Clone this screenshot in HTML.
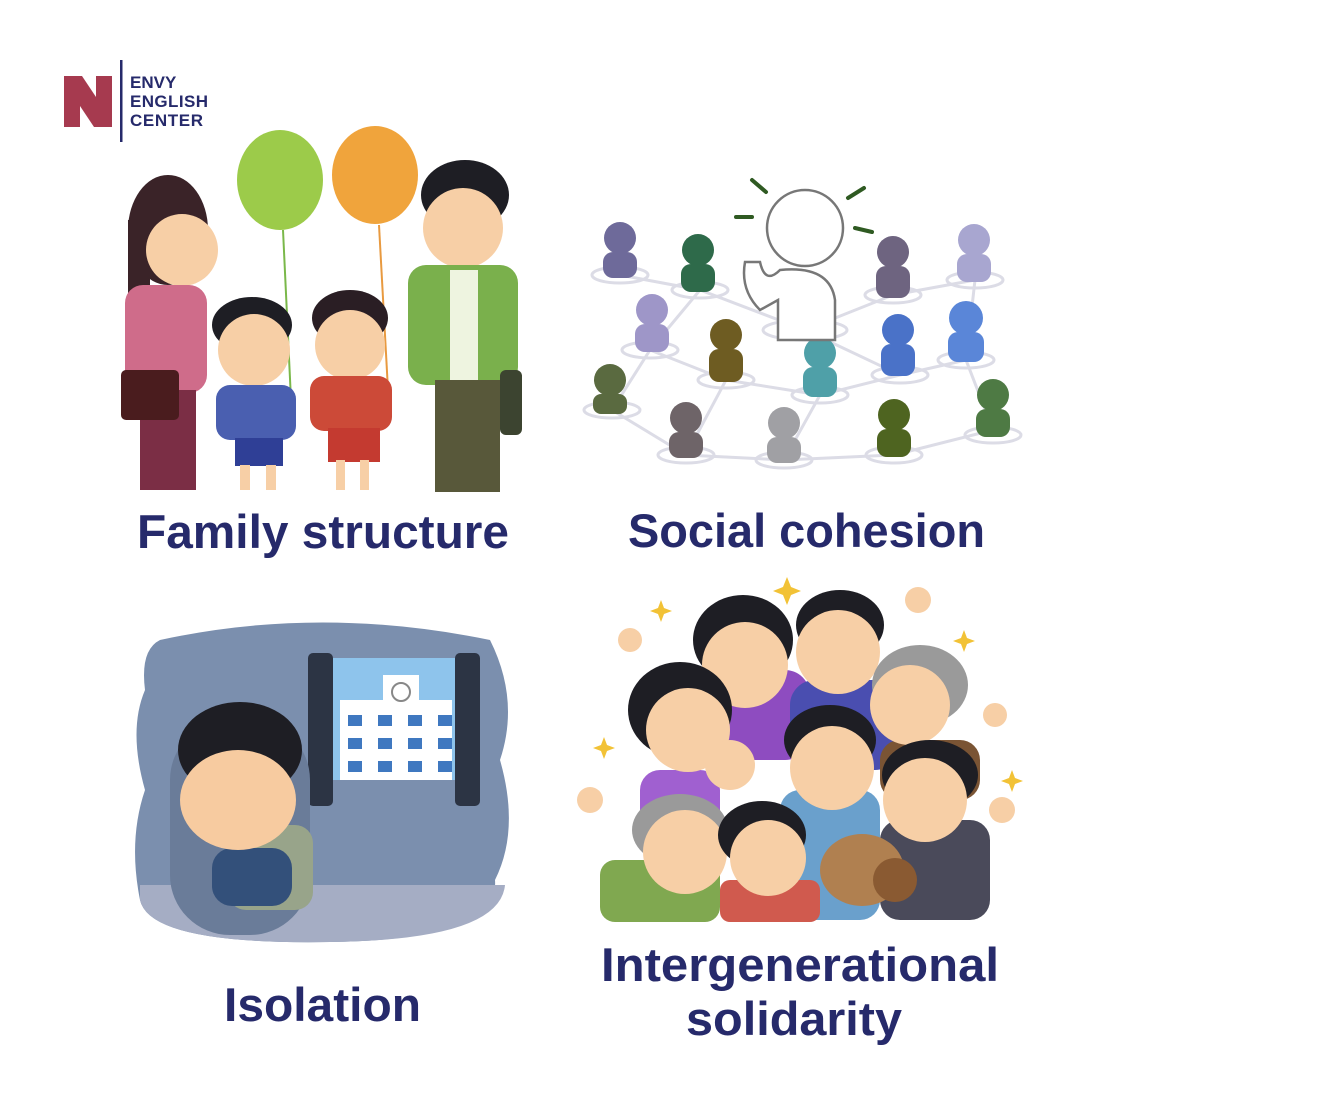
<!DOCTYPE html>
<html><head><meta charset="utf-8"><style>
html,body{margin:0;padding:0;background:#fff;width:1326px;height:1096px;overflow:hidden}
svg{display:block}
text.t{font-family:"Liberation Sans",sans-serif;font-weight:bold;fill:#262a6b;font-size:47px}
</style></head><body>
<svg width="1326" height="1096" viewBox="0 0 1326 1096" xmlns="http://www.w3.org/2000/svg">
<!-- logo -->
<rect x="64" y="76" width="16" height="51" fill="#a63a4f"/>
<rect x="96" y="76" width="16" height="51" fill="#a63a4f"/>
<polygon points="64,76 82,76 112,121 112,127 94,127 64,82" fill="#a63a4f"/>
<rect x="120" y="60" width="2.5" height="82" fill="#262a6b"/>
<text x="130" y="88" font-family="Liberation Sans,sans-serif" font-weight="bold" font-size="17" fill="#262a6b">ENVY</text>
<text x="130" y="107" font-family="Liberation Sans,sans-serif" font-weight="bold" font-size="17" fill="#262a6b" textLength="78">ENGLISH</text>
<text x="130" y="126" font-family="Liberation Sans,sans-serif" font-weight="bold" font-size="17" fill="#262a6b" textLength="73">CENTER</text>

<!-- FAMILY -->
<line x1="283" y1="230" x2="291" y2="400" stroke="#7ab84a" stroke-width="2"/>
<line x1="379" y1="225" x2="388" y2="390" stroke="#e89a40" stroke-width="2"/>
<ellipse cx="280" cy="180" rx="43" ry="50" fill="#9ccb4a"/>
<ellipse cx="375" cy="175" rx="43" ry="49" fill="#f0a43c"/>
<!-- mother -->
<ellipse cx="168" cy="230" rx="40" ry="55" fill="#3a2328"/>
<rect x="128" y="220" width="22" height="100" fill="#3a2328"/>
<circle cx="182" cy="250" r="36" fill="#f7cfa6"/>
<rect x="125" y="285" width="82" height="108" rx="18" fill="#cf6c8a"/>
<rect x="140" y="390" width="56" height="100" fill="#7b2e45"/>
<rect x="121" y="370" width="58" height="50" rx="5" fill="#4a1c1e"/>
<!-- boy -->
<ellipse cx="252" cy="325" rx="40" ry="28" fill="#1e1e24"/>
<circle cx="254" cy="350" r="36" fill="#f7cfa6"/>
<rect x="216" y="385" width="80" height="55" rx="14" fill="#4a5fb0"/>
<rect x="235" y="438" width="48" height="28" fill="#2f3f96"/>
<rect x="240" y="465" width="10" height="25" fill="#f7cfa6"/><rect x="266" y="465" width="10" height="25" fill="#f7cfa6"/>
<!-- girl -->
<ellipse cx="350" cy="318" rx="38" ry="28" fill="#2a1e24"/>
<circle cx="350" cy="345" r="35" fill="#f7cfa6"/>
<rect x="310" y="376" width="82" height="55" rx="14" fill="#cc4a38"/>
<rect x="328" y="428" width="52" height="34" fill="#c43a30"/>
<rect x="336" y="460" width="9" height="30" fill="#f7cfa6"/><rect x="360" y="460" width="9" height="30" fill="#f7cfa6"/>
<!-- father -->
<ellipse cx="465" cy="195" rx="44" ry="35" fill="#1e1e24"/>
<circle cx="463" cy="228" r="40" fill="#f7cfa6"/>
<rect x="408" y="265" width="110" height="120" rx="18" fill="#7ab04c"/>
<rect x="450" y="270" width="28" height="110" fill="#eef4e0"/>
<rect x="435" y="380" width="65" height="112" fill="#58583a"/>
<rect x="500" y="370" width="22" height="65" rx="6" fill="#3c4430"/>

<!-- SOCIAL -->
<g stroke="#dcdce6" stroke-width="3" fill="none">
<path d="M620 275 L700 290 L805 330 L893 295 L975 280 M700 290 L650 350 L612 410 L686 455 L784 460 L820 395 L900 375 L966 360 L993 430 L894 455 M650 350 L726 380 L686 455 M726 380 L820 395 M805 330 L900 375 M966 360 L975 280 M784 460 L894 455"/>
<ellipse cx="620" cy="275" rx="28" ry="8"/><ellipse cx="700" cy="290" rx="28" ry="8"/><ellipse cx="650" cy="350" rx="28" ry="8"/>
<ellipse cx="726" cy="380" rx="28" ry="8"/><ellipse cx="820" cy="395" rx="28" ry="8"/><ellipse cx="900" cy="375" rx="28" ry="8"/>
<ellipse cx="966" cy="360" rx="28" ry="8"/><ellipse cx="893" cy="295" rx="28" ry="8"/><ellipse cx="975" cy="280" rx="28" ry="8"/>
<ellipse cx="612" cy="410" rx="28" ry="8"/><ellipse cx="686" cy="455" rx="28" ry="8"/><ellipse cx="784" cy="460" rx="28" ry="8"/>
<ellipse cx="894" cy="455" rx="28" ry="8"/><ellipse cx="993" cy="435" rx="28" ry="8"/><ellipse cx="805" cy="330" rx="42" ry="10"/>
</g>
<g>
<circle cx="620" cy="238" r="16" fill="#6e6a9a"/><rect x="603" y="252" width="34" height="26" rx="10" fill="#6e6a9a"/>
<circle cx="698" cy="250" r="16" fill="#2e6a4a"/><rect x="681" y="264" width="34" height="28" rx="10" fill="#2e6a4a"/>
<circle cx="652" cy="310" r="16" fill="#9e96c8"/><rect x="635" y="324" width="34" height="28" rx="10" fill="#9e96c8"/>
<circle cx="726" cy="335" r="16" fill="#6e5c22"/><rect x="709" y="349" width="34" height="33" rx="10" fill="#6e5c22"/>
<circle cx="820" cy="353" r="16" fill="#4fa0a8"/><rect x="803" y="367" width="34" height="30" rx="10" fill="#4fa0a8"/>
<circle cx="898" cy="330" r="16" fill="#4a72c8"/><rect x="881" y="344" width="34" height="32" rx="10" fill="#4a72c8"/>
<circle cx="966" cy="318" r="17" fill="#5a86d8"/><rect x="948" y="332" width="36" height="30" rx="10" fill="#5a86d8"/>
<circle cx="893" cy="252" r="16" fill="#6e6480"/><rect x="876" y="266" width="34" height="32" rx="10" fill="#6e6480"/>
<circle cx="974" cy="240" r="16" fill="#a8a6d0"/><rect x="957" y="254" width="34" height="28" rx="10" fill="#a8a6d0"/>
<circle cx="610" cy="380" r="16" fill="#5a6a40"/><rect x="593" y="394" width="34" height="20" rx="8" fill="#5a6a40"/>
<circle cx="686" cy="418" r="16" fill="#6e6468"/><rect x="669" y="432" width="34" height="26" rx="10" fill="#6e6468"/>
<circle cx="784" cy="423" r="16" fill="#a0a0a4"/><rect x="767" y="437" width="34" height="26" rx="10" fill="#a0a0a4"/>
<circle cx="894" cy="415" r="16" fill="#4e6420"/><rect x="877" y="429" width="34" height="28" rx="10" fill="#4e6420"/>
<circle cx="993" cy="395" r="16" fill="#4e7a44"/><rect x="976" y="409" width="34" height="28" rx="10" fill="#4e7a44"/>
</g>
<g stroke="#777" stroke-width="2.5" fill="#fff">
<path d="M780 270 Q830 265 835 300 L835 340 L778 340 L778 300 L760 310 Q740 290 745 262 L760 262 Q765 285 780 270Z"/>
<circle cx="805" cy="228" r="38"/>
</g>
<g stroke="#2f5a22" stroke-width="4" stroke-linecap="round">
<line x1="752" y1="180" x2="766" y2="192"/><line x1="848" y1="198" x2="864" y2="188"/><line x1="736" y1="217" x2="752" y2="217"/><line x1="855" y1="228" x2="872" y2="232"/>
</g>

<!-- ISOLATION -->
<path d="M160 640 Q320 605 490 640 Q520 700 500 760 Q520 830 495 880 Q500 940 330 942 Q150 945 140 900 Q128 840 145 790 Q128 730 145 690 Q140 650 160 640Z" fill="#7b8fae"/>
<path d="M140 885 L505 885 Q500 940 330 942 Q150 945 140 900Z" fill="#a5adc4"/>
<rect x="330" y="658" width="130" height="122" fill="#8ec4ec"/>
<rect x="340" y="700" width="112" height="80" fill="#fff"/>
<rect x="383" y="675" width="36" height="28" fill="#fff"/>
<circle cx="401" cy="692" r="9" fill="#fff" stroke="#888" stroke-width="2"/>
<g fill="#3f78c0">
<rect x="348" y="715" width="14" height="11"/><rect x="378" y="715" width="14" height="11"/><rect x="408" y="715" width="14" height="11"/><rect x="438" y="715" width="14" height="11"/>
<rect x="348" y="738" width="14" height="11"/><rect x="378" y="738" width="14" height="11"/><rect x="408" y="738" width="14" height="11"/><rect x="438" y="738" width="14" height="11"/>
<rect x="348" y="761" width="14" height="11"/><rect x="378" y="761" width="14" height="11"/><rect x="408" y="761" width="14" height="11"/><rect x="438" y="761" width="14" height="11"/>
</g>
<rect x="308" y="653" width="25" height="153" rx="5" fill="#2c3444"/>
<rect x="455" y="653" width="25" height="153" rx="5" fill="#2c3444"/>
<rect x="170" y="720" width="140" height="215" rx="60" fill="#6a7c99"/>
<rect x="228" y="825" width="85" height="85" rx="18" fill="#98a48a"/>
<rect x="212" y="848" width="80" height="58" rx="20" fill="#33507a"/>
<ellipse cx="240" cy="750" rx="62" ry="48" fill="#1e1e24"/>
<ellipse cx="238" cy="800" rx="58" ry="50" fill="#f7cba0"/>

<!-- INTERGENERATIONAL -->
<g fill="#f2c236">
<path d="M787 577l4 10 10 4-10 4-4 10-4-10-10-4 10-4z"/><path d="M661 600l3 8 8 3-8 3-3 8-3-8-8-3 8-3z"/><path d="M964 630l3 8 8 3-8 3-3 8-3-8-8-3 8-3z"/><path d="M604 737l3 8 8 3-8 3-3 8-3-8-8-3 8-3z"/><path d="M1012 770l3 8 8 3-8 3-3 8-3-8-8-3 8-3z"/><path d="M620 885l3 7 7 3-7 3-3 7-3-7-7-3 7-3z"/><path d="M970 893l3 7 7 3-7 3-3 7-3-7-7-3 7-3z"/>
</g>
<rect x="700" y="670" width="110" height="90" rx="25" fill="#8e4cc0"/>
<rect x="790" y="680" width="110" height="90" rx="25" fill="#4a4eb0"/>
<rect x="880" y="740" width="100" height="60" rx="20" fill="#7a5434"/>
<rect x="640" y="770" width="80" height="60" rx="20" fill="#a060d0"/>
<rect x="780" y="790" width="100" height="130" rx="20" fill="#6aa0cc"/>
<rect x="880" y="820" width="110" height="100" rx="20" fill="#4a4a5a"/>
<rect x="600" y="860" width="120" height="62" rx="15" fill="#80a850"/>
<rect x="720" y="880" width="100" height="42" rx="10" fill="#d05a4e"/>
<ellipse cx="743" cy="640" rx="50" ry="45" fill="#1e1e24"/><circle cx="745" cy="665" r="43" fill="#f7cfa6"/>
<ellipse cx="840" cy="625" rx="44" ry="35" fill="#1e1e24"/><circle cx="838" cy="652" r="42" fill="#f7cfa6"/>
<ellipse cx="920" cy="685" rx="48" ry="40" fill="#9a9a9a"/><circle cx="910" cy="705" r="40" fill="#f7cfa6"/>
<ellipse cx="680" cy="710" rx="52" ry="48" fill="#1e1e24"/><circle cx="688" cy="730" r="42" fill="#f7cfa6"/>
<circle cx="730" cy="765" r="25" fill="#f7cfa6"/>
<ellipse cx="830" cy="740" rx="46" ry="35" fill="#1e1e24"/><circle cx="832" cy="768" r="42" fill="#f7cfa6"/>
<ellipse cx="930" cy="775" rx="48" ry="35" fill="#1e1e24"/><circle cx="925" cy="800" r="42" fill="#f7cfa6"/>
<ellipse cx="680" cy="830" rx="48" ry="36" fill="#9a9a9a"/><circle cx="685" cy="852" r="42" fill="#f7cfa6"/>
<ellipse cx="762" cy="835" rx="44" ry="34" fill="#1e1e24"/><circle cx="768" cy="858" r="38" fill="#f7cfa6"/>
<ellipse cx="862" cy="870" rx="42" ry="36" fill="#b08050"/><circle cx="895" cy="880" r="22" fill="#8a5a32"/>
<circle cx="590" cy="800" r="13" fill="#f7cfa6"/><circle cx="1002" cy="810" r="13" fill="#f7cfa6"/><circle cx="918" cy="600" r="13" fill="#f7cfa6"/><circle cx="995" cy="715" r="12" fill="#f7cfa6"/><circle cx="630" cy="640" r="12" fill="#f7cfa6"/>

<!-- labels -->
<text class="t" x="137" y="548" textLength="372" lengthAdjust="spacingAndGlyphs">Family structure</text>
<text class="t" x="628" y="547" textLength="357" lengthAdjust="spacingAndGlyphs">Social cohesion</text>
<text class="t" x="224" y="1021" textLength="197" lengthAdjust="spacingAndGlyphs">Isolation</text>
<text class="t" x="601" y="981" textLength="398" lengthAdjust="spacingAndGlyphs">Intergenerational</text>
<text class="t" x="686" y="1035" textLength="216" lengthAdjust="spacingAndGlyphs">solidarity</text>
</svg>
</body></html>
